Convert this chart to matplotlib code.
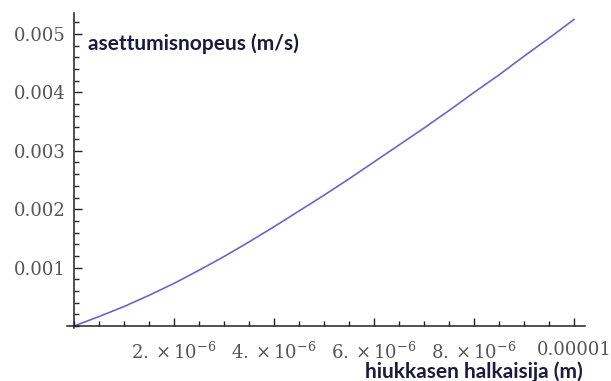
import matplotlib.pyplot as plt
from matplotlib.ticker import FixedLocator, MultipleLocator

# particle diameter (m) and settling speed (m/s)
diameter = [0, 0.5e-6, 1.0e-6, 1.5e-6, 2.0e-6, 2.5e-6, 3.0e-6, 3.5e-6, 4.0e-6,
            4.5e-6, 5.0e-6, 5.5e-6, 6.0e-6, 6.5e-6, 7.0e-6, 7.5e-6, 8.0e-6,
            8.5e-6, 9.0e-6, 9.5e-6, 1.0e-5]
speed = [0, 0.000162, 0.000334, 0.000525, 0.00073, 0.000955, 0.00119,
         0.00144, 0.00170, 0.00197, 0.00224, 0.00252, 0.00281, 0.00310,
         0.00339, 0.00369, 0.00400, 0.00430, 0.00462, 0.00493, 0.00525]

x_ticks = [2e-6, 4e-6, 6e-6, 8e-6, 1e-5]
x_labels = [r'$2.\times10^{-6}$', r'$4.\times10^{-6}$', r'$6.\times10^{-6}$',
            r'$8.\times10^{-6}$', '0.00001']
y_ticks = [0.001, 0.002, 0.003, 0.004, 0.005]
y_labels = ['0.001', '0.002', '0.003', '0.004', '0.005']

plt.rcParams['mathtext.fontset'] = 'dejavuserif'

fig = plt.figure(figsize=(6.11, 3.81), dpi=100)
ax = fig.add_axes([0.1097, 0.1391, 0.8478, 0.8268])

ax.plot(diameter, speed, color='#6868c4', lw=1.2)

ax.set_xlim(-0.14e-6, 10.22e-6)
ax.set_ylim(-0.000034, 0.00536)

for side in ['top', 'right']:
    ax.spines[side].set_visible(False)
ax.spines['left'].set_position(('data', 0))
ax.spines['bottom'].set_position(('data', 0))
for side in ['left', 'bottom']:
    ax.spines[side].set_linewidth(1.1)
    ax.spines[side].set_color('#222222')

ax.xaxis.set_major_locator(FixedLocator(x_ticks))
ax.xaxis.set_minor_locator(MultipleLocator(0.5e-6))
ax.yaxis.set_major_locator(FixedLocator(y_ticks))
ax.yaxis.set_minor_locator(MultipleLocator(0.0002))
ax.set_xticklabels(x_labels)
ax.set_yticklabels(y_labels)

ax.tick_params(which='both', direction='in', color='#222222', width=1.0)
ax.tick_params(which='major', length=6, labelsize=13, labelcolor='#555555')
ax.tick_params(which='minor', length=3.5)
ax.tick_params(axis='x', which='major', pad=11)
ax.tick_params(axis='y', which='major', pad=6)
for lab in ax.get_xticklabels() + ax.get_yticklabels():
    lab.set_family('DejaVu Serif')

fig.text(0.144, 0.885, 'asettumisnopeus (m/s)', fontsize=15, fontweight='bold',
         family='Lato', color='#1c1c3a', va='center', ha='left')
fig.text(0.953, 0.025, 'hiukkasen halkaisija (m)', fontsize=15, fontweight='bold',
         family='Lato', color='#1c1c3a', va='center', ha='right')

fig.savefig('out.png', dpi=100)
